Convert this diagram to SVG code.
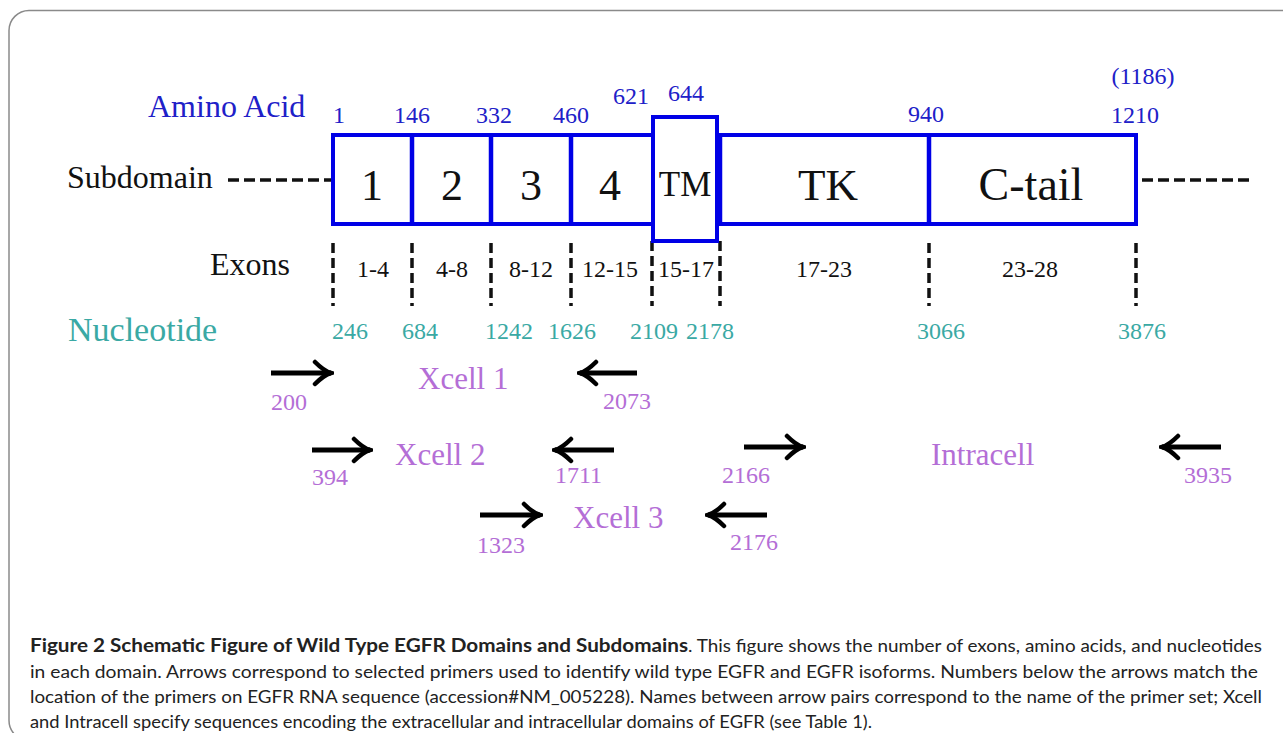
<svg xmlns="http://www.w3.org/2000/svg" width="1283" height="733" viewBox="0 0 1283 733">
<defs>
<style>
.serif{font-family:"Liberation Serif","DejaVu Serif",serif}
.lbl{font-size:31px}
.num{font-size:24px}
.blue{fill:#2020c8}
.teal{fill:#3aa9a4}
.purp{fill:#b46ed6}
.blk{fill:#111}
.box{fill:#fff;stroke:#0000e6;stroke-width:4}
.div{stroke:#0000e6;stroke-width:4.5}
.hdash{stroke:#111;stroke-width:3.5;stroke-dasharray:11 5}
.vdash{stroke:#111;stroke-width:3.5;stroke-dasharray:10 5}
.arr{stroke:#000;stroke-width:5;fill:none;marker-end:url(#ah)}
.cap{font-family:Lato,"Liberation Sans",sans-serif;font-size:18px;fill:#222}
</style>
<marker id="ah" markerUnits="userSpaceOnUse" viewBox="0 0 22 28" refX="19" refY="14" markerWidth="22" markerHeight="28" orient="auto">
<path d="M3,3 Q12,12 19,14 Q12,16 3,25" fill="none" stroke="#000" stroke-width="4.5" stroke-linecap="round"/>
</marker>
</defs>
<rect x="9" y="10.5" width="1300" height="730" rx="20" fill="#fff" stroke="#8a8a8a" stroke-width="1.5"/>

<g id="labels" class="serif">
<text id="lbl-amino" class="blue" x="148" y="117" font-size="32">Amino Acid</text>
<text id="lbl-sub" class="blk" x="67" y="188" font-size="32">Subdomain</text>
<text id="lbl-exons" class="blk" x="210" y="275" font-size="32">Exons</text>
<text id="lbl-nuc" class="teal" x="68" y="341" font-size="34">Nucleotide</text>
</g>

<g id="connectors">
<line class="hdash" x1="228" y1="180" x2="331" y2="180"/>
<line class="hdash" x1="1142" y1="180" x2="1250" y2="180"/>
<line class="vdash" x1="333" y1="243" x2="333" y2="306"/>
<line class="vdash" x1="412" y1="243" x2="412" y2="306"/>
<line class="vdash" x1="491" y1="243" x2="491" y2="306"/>
<line class="vdash" x1="571" y1="243" x2="571" y2="306"/>
<line class="vdash" x1="652" y1="241" x2="652" y2="306"/>
<line class="vdash" x1="720" y1="241" x2="720" y2="306"/>
<line class="vdash" x1="929" y1="243" x2="929" y2="306"/>
<line class="vdash" x1="1136" y1="243" x2="1136" y2="306"/>
<line class="arr" x1="271" y1="373" x2="331" y2="373"/>
<line class="arr" x1="637" y1="373" x2="580" y2="373"/>
<line class="arr" x1="312" y1="450" x2="370" y2="450"/>
<line class="arr" x1="614" y1="450" x2="555" y2="450"/>
<line class="arr" x1="744" y1="447" x2="803" y2="447"/>
<line class="arr" x1="1221" y1="447" x2="1162" y2="447"/>
<line class="arr" x1="480" y1="515" x2="540" y2="515"/>
<line class="arr" x1="767" y1="515" x2="708" y2="515"/>
</g>

<g id="domain-bar">
<rect class="box" x="333" y="135" width="803" height="89"/>
<line class="div" x1="412" y1="135" x2="412" y2="224"/>
<line class="div" x1="491" y1="135" x2="491" y2="224"/>
<line class="div" x1="571" y1="135" x2="571" y2="224"/>
<line class="div" x1="720" y1="135" x2="720" y2="224"/>
<line class="div" x1="929" y1="135" x2="929" y2="224"/>
</g>
<g id="node-1" class="serif"><text class="blk" x="372" y="200" font-size="44" text-anchor="middle">1</text></g>
<g id="node-2" class="serif"><text class="blk" x="452" y="200" font-size="44" text-anchor="middle">2</text></g>
<g id="node-3" class="serif"><text class="blk" x="531" y="200" font-size="44" text-anchor="middle">3</text></g>
<g id="node-4" class="serif"><text class="blk" x="610" y="200" font-size="44" text-anchor="middle">4</text></g>
<g id="node-tm" class="serif">
<rect class="box" x="653" y="117" width="64" height="124"/>
<text class="blk" x="685" y="196" font-size="35" text-anchor="middle">TM</text>
</g>
<g id="node-tk" class="serif"><text class="blk" x="828" y="200" font-size="45" text-anchor="middle">TK</text></g>
<g id="node-ctail" class="serif"><text class="blk" x="1031" y="200" font-size="46" text-anchor="middle">C-tail</text></g>

<g id="aa-numbers" class="serif num blue" text-anchor="middle">
<text x="339" y="123">1</text>
<text x="412" y="123">146</text>
<text x="494" y="123">332</text>
<text x="571" y="123">460</text>
<text x="631" y="104">621</text>
<text x="686" y="101">644</text>
<text x="926" y="122">940</text>
<text x="1143" y="84">(1186)</text>
<text x="1135" y="123">1210</text>
</g>

<g id="exon-ranges" class="serif num blk" text-anchor="middle">
<text x="373" y="277">1-4</text>
<text x="452" y="277">4-8</text>
<text x="531" y="277">8-12</text>
<text x="610" y="277">12-15</text>
<text x="686" y="277">15-17</text>
<text x="824" y="277">17-23</text>
<text x="1030" y="277">23-28</text>
</g>

<g id="nuc-numbers" class="serif num teal">
<text x="332" y="339">246</text>
<text x="402" y="339">684</text>
<text x="485" y="339">1242</text>
<text x="548" y="339">1626</text>
<text x="630" y="339">2109</text>
<text x="686" y="339">2178</text>
<text x="917" y="339">3066</text>
<text x="1118" y="339">3876</text>
</g>

<g id="primer-xcell1" class="serif purp">
<text class="lbl" x="418" y="389">Xcell 1</text>
<text class="num" x="271" y="410">200</text>
<text class="num" x="603" y="409">2073</text>
</g>
<g id="primer-xcell2" class="serif purp">
<text class="lbl" x="395" y="465">Xcell 2</text>
<text class="num" x="312" y="485">394</text>
<text class="num" x="555" y="483">1711</text>
</g>
<g id="primer-intracell" class="serif purp">
<text class="lbl" x="931" y="465">Intracell</text>
<text class="num" x="722" y="483">2166</text>
<text class="num" x="1184" y="483">3935</text>
</g>
<g id="primer-xcell3" class="serif purp">
<text class="lbl" x="573" y="528">Xcell 3</text>
<text class="num" x="477" y="553">1323</text>
<text class="num" x="730" y="550">2176</text>
</g>

<g id="caption">
<text class="cap" x="30" y="652" font-weight="bold" textLength="658" lengthAdjust="spacingAndGlyphs">Figure 2 Schematic Figure of Wild Type EGFR Domains and Subdomains</text>
<text class="cap" x="688" y="652" textLength="574" lengthAdjust="spacingAndGlyphs">. This figure shows the number of exons, amino acids, and nucleotides</text>
<text class="cap" x="30" y="677.5" textLength="1228" lengthAdjust="spacingAndGlyphs">in each domain. Arrows correspond to selected primers used to identify wild type EGFR and EGFR isoforms. Numbers below the arrows match the</text>
<text class="cap" x="30" y="703" textLength="1232" lengthAdjust="spacingAndGlyphs">location of the primers on EGFR RNA sequence (accession#NM_005228). Names between arrow pairs correspond to the name of the primer set; Xcell</text>
<text class="cap" x="30" y="728" textLength="842" lengthAdjust="spacingAndGlyphs">and Intracell specify sequences encoding the extracellular and intracellular domains of EGFR (see Table 1).</text>
</g>
</svg>
